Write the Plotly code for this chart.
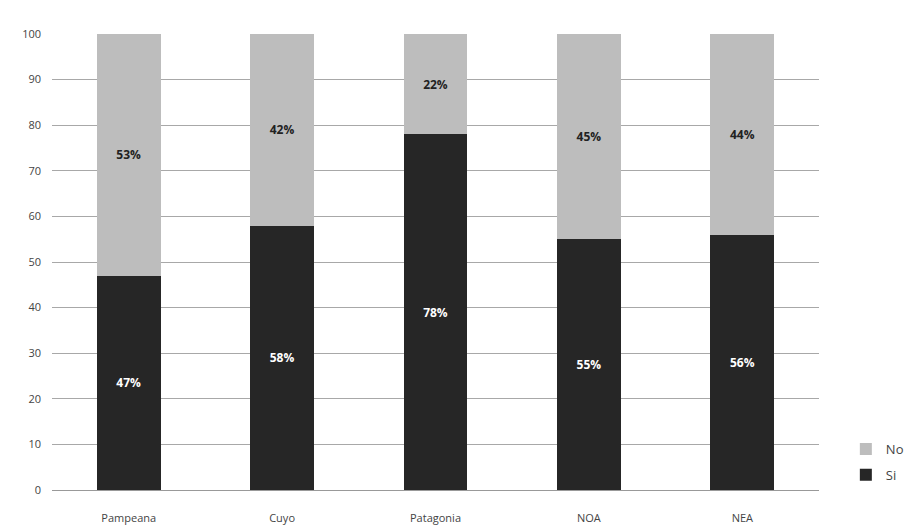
import plotly.graph_objects as go

regions = ["Pampeana", "Cuyo", "Patagonia", "NOA", "NEA"]
si_values = [47, 58, 78, 55, 56]
no_values = [53, 42, 22, 45, 44]
y_ticks = [0, 10, 20, 30, 40, 50, 60, 70, 80, 90, 100]

fig = go.Figure()
fig.add_trace(go.Bar(
    x=regions, y=si_values, name="Si", legendgroup="si", legendrank=2,
    marker=dict(color="#262626", line=dict(width=0)),
    text=[f"<b>{v}%</b>" for v in si_values], textposition="inside",
    insidetextanchor="middle",
    textfont=dict(color="white", size=12, family="Open Sans"),
))
fig.add_trace(go.Bar(
    x=regions, y=no_values, name="No", legendgroup="no", legendrank=1,
    marker=dict(color="#bdbdbd", line=dict(width=0)),
    text=[f"<b>{v}%</b>" for v in no_values], textposition="inside",
    insidetextanchor="middle",
    textfont=dict(color="#222222", size=12, family="Open Sans"),
))

fig.update_layout(
    barmode="stack",
    bargap=0.585,
    width=921, height=532,
    margin=dict(l=52, r=94, t=34, b=42),
    paper_bgcolor="white", plot_bgcolor="white",
    font=dict(family="Open Sans", size=11, color="#444444"),
    uniformtext=dict(mode="show", minsize=12),
    legend=dict(
        traceorder="grouped",
        tracegroupgap=6,
        x=1.035, y=0.0, xanchor="left", yanchor="bottom",
        font=dict(size=13, color="#444444"),
        itemwidth=30,
    ),
    yaxis=dict(
        range=[0, 100], tickvals=y_ticks,
        showgrid=True, gridcolor="#a8a8a8", gridwidth=1,
        zeroline=False, showline=False, ticks="",
        ticklabelstandoff=10, automargin=False,
    ),
    xaxis=dict(
        showline=True, linecolor="#999999", linewidth=1,
        ticks="", ticklabelstandoff=18, automargin=False,
    ),
)

fig.write_html("out.html")
